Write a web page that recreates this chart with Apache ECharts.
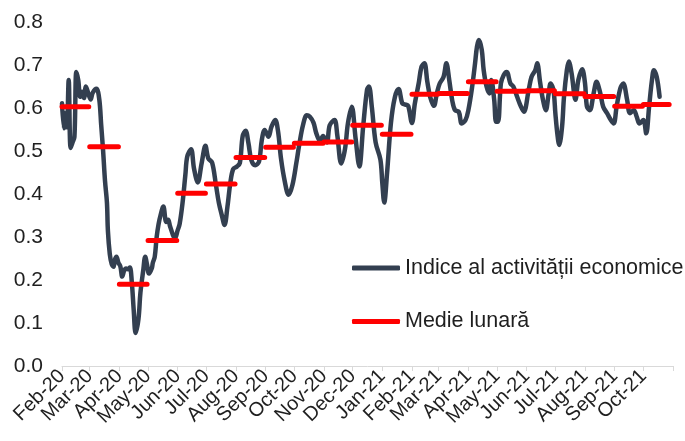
<!DOCTYPE html>
<html>
<head>
<meta charset="utf-8">
<script src="https://cdn.jsdelivr.net/npm/echarts@6/dist/echarts.min.js"></script>
<style>
html,body{margin:0;padding:0;background:#fff;}
#c{width:685px;height:441px;}
</style>
</head>
<body>
<div id="c"></div>
<script>
// ---- Data ----
const dates = [
'2020-02-01','2020-02-03','2020-02-04','2020-02-06','2020-02-08','2020-02-10','2020-02-12','2020-02-14','2020-02-16','2020-02-18',
'2020-02-20','2020-02-22','2020-02-24','2020-02-26','2020-02-29','2020-03-02','2020-03-04','2020-03-08','2020-03-11','2020-03-13',
'2020-03-15','2020-03-17','2020-03-19','2020-03-20','2020-03-22','2020-03-24','2020-03-26','2020-03-27','2020-03-29','2020-03-31',
'2020-04-02','2020-04-04','2020-04-06','2020-04-08','2020-04-10','2020-04-12','2020-04-14','2020-04-16','2020-04-18','2020-04-21',
'2020-04-23','2020-04-26','2020-04-28','2020-04-30','2020-05-02','2020-05-05','2020-05-06','2020-05-08','2020-05-10','2020-05-12',
'2020-05-14','2020-05-17','2020-05-20','2020-05-22','2020-05-24','2020-05-27','2020-05-29','2020-06-01','2020-06-03','2020-06-06',
'2020-06-09','2020-06-11','2020-06-15','2020-06-18','2020-06-22','2020-06-26','2020-06-30','2020-07-03','2020-07-07','2020-07-11',
'2020-07-14','2020-07-17','2020-07-20','2020-07-23','2020-07-26','2020-07-29','2020-08-02','2020-08-05','2020-08-08','2020-08-11',
'2020-08-14','2020-08-17','2020-08-21','2020-08-25','2020-08-28','2020-08-31','2020-09-04','2020-09-07','2020-09-11','2020-09-14',
'2020-09-17','2020-09-21','2020-09-25','2020-09-29','2020-10-03','2020-10-06','2020-10-10','2020-10-14','2020-10-17','2020-10-21',
'2020-10-24','2020-10-28','2020-10-31','2020-11-04','2020-11-07','2020-11-12','2020-11-15','2020-11-19','2020-11-23','2020-11-26',
'2020-11-30','2020-12-04','2020-12-08','2020-12-12','2020-12-16','2020-12-18','2020-12-21','2020-12-25','2020-12-30','2021-01-01',
'2021-01-03','2021-01-06','2021-01-10','2021-01-14','2021-01-18','2021-01-22','2021-01-25','2021-01-28','2021-02-01','2021-02-04',
'2021-02-08','2021-02-11','2021-02-14','2021-02-17','2021-02-20','2021-02-24','2021-02-27','2021-03-02','2021-03-06','2021-03-09',
'2021-03-12','2021-03-15','2021-03-18','2021-03-22','2021-03-25','2021-03-29','2021-04-01','2021-04-05','2021-04-08','2021-04-10',
'2021-04-12','2021-04-15','2021-04-17','2021-04-20','2021-04-23','2021-04-25','2021-04-28','2021-04-30','2021-05-02','2021-05-05',
'2021-05-08','2021-05-11','2021-05-15','2021-05-18','2021-05-22','2021-05-26','2021-05-29','2021-06-03','2021-06-06','2021-06-10',
'2021-06-12','2021-06-15','2021-06-18','2021-06-21','2021-06-24','2021-06-26','2021-06-29','2021-07-01','2021-07-03','2021-07-05',
'2021-07-08','2021-07-10','2021-07-13','2021-07-15','2021-07-18','2021-07-22','2021-07-25','2021-07-29','2021-08-01','2021-08-03',
'2021-08-06','2021-08-10','2021-08-13','2021-08-17','2021-08-20','2021-08-24','2021-08-28','2021-08-31','2021-09-03','2021-09-07',
'2021-09-10','2021-09-14','2021-09-17','2021-09-21','2021-09-24','2021-09-27','2021-10-01','2021-10-04','2021-10-07','2021-10-10',
'2021-10-12','2021-10-15','2021-10-18'
];
const activityIndex = [
0.611,0.553,0.588,0.555,0.665,0.507,0.520,0.533,0.684,0.665,
0.626,0.638,0.623,0.650,0.630,0.620,0.635,0.645,0.620,0.560,
0.500,0.430,0.380,0.315,0.260,0.237,0.231,0.245,0.254,0.240,
0.232,0.208,0.222,0.227,0.225,0.229,0.195,0.130,0.077,0.110,
0.170,0.223,0.254,0.235,0.215,0.228,0.240,0.254,0.300,0.330,
0.350,0.371,0.335,0.340,0.325,0.305,0.296,0.316,0.330,0.378,
0.444,0.487,0.504,0.460,0.427,0.471,0.512,0.483,0.473,0.421,
0.380,0.352,0.328,0.370,0.425,0.458,0.464,0.472,0.535,0.547,
0.518,0.479,0.467,0.475,0.526,0.549,0.533,0.556,0.572,0.545,
0.483,0.429,0.398,0.421,0.471,0.513,0.560,0.583,0.580,0.566,
0.541,0.523,0.535,0.520,0.560,0.572,0.535,0.471,0.505,0.564,
0.603,0.530,0.464,0.558,0.642,0.650,0.603,0.520,0.480,0.425,
0.380,0.450,0.565,0.624,0.644,0.610,0.608,0.605,0.565,0.610,
0.657,0.696,0.704,0.662,0.626,0.605,0.634,0.657,0.672,0.704,
0.665,0.619,0.595,0.591,0.564,0.572,0.595,0.650,0.704,0.743,
0.758,0.735,0.688,0.650,0.634,0.665,0.619,0.568,0.568,0.657,
0.677,0.684,0.657,0.650,0.626,0.603,0.591,0.641,0.672,0.688,
0.704,0.660,0.619,0.595,0.634,0.657,0.641,0.587,0.541,0.514,
0.557,0.626,0.688,0.708,0.680,0.619,0.665,0.690,0.657,0.603,
0.595,0.634,0.661,0.634,0.603,0.588,0.572,0.564,0.603,0.646,
0.657,0.619,0.588,0.595,0.580,0.564,0.572,0.541,0.603,0.665,
0.688,0.672,0.626
];
const monthLabels = ['Feb-20','Mar-20','Apr-20','May-20','Jun-20','Jul-20','Aug-20','Sep-20','Oct-20','Nov-20','Dec-20',
  'Jan-21','Feb-21','Mar-21','Apr-21','May-21','Jun-21','Jul-21','Aug-21','Sep-21','Oct-21'];
const monthStarts = ['2020-02-01','2020-03-01','2020-04-01','2020-05-01','2020-06-01','2020-07-01','2020-08-01','2020-09-01',
  '2020-10-01','2020-11-01','2020-12-01','2021-01-01','2021-02-01','2021-03-01','2021-04-01','2021-05-01','2021-06-01',
  '2021-07-01','2021-08-01','2021-09-01','2021-10-01','2021-11-01'];
const monthlyMean = [0.603,0.510,0.190,0.292,0.402,0.423,0.485,0.509,0.518,0.521,0.560,
  0.539,0.632,0.634,0.661,0.639,0.640,0.633,0.627,0.604,0.608];
const lastMeanDay = '2021-10-28';
const seriesNames = ['Indice al activității economice','Medie lunară'];

// ---- Build ----
const t0 = Date.parse('2020-02-01');
const dayIdx = s => Math.round((Date.parse(s) - t0) / 864e5);
const lineData = dates.map((d,i) => [dayIdx(d), activityIndex[i]]);
const tickDays = monthStarts.map(dayIdx);
const labelDays = tickDays.slice(0, monthLabels.length);
const labelMap = {};
labelDays.forEach((d,i) => { labelMap[d] = monthLabels[i]; });
const labelsEven = labelDays.filter((d,i) => i % 2 === 0);
const labelsOdd = labelDays.filter((d,i) => i % 2 === 1);
const meanData = [];
monthlyMean.forEach((v,i) => {
  const s = tickDays[i];
  const e = (i === monthlyMean.length - 1) ? dayIdx(lastMeanDay) : tickDays[i+1] - 1;
  meanData.push([s, v], [e, v], [e + 0.5, null]);
});

const FONT = "'Liberation Sans', Arial, sans-serif";
const TXT = '#1f1f1f';
const xMax = tickDays[tickDays.length-1];
const labelStyle = vals => ({
  show: true, customValues: vals, rotate: 45, margin: 7,
  hideOverlap: false, showMinLabel: true, showMaxLabel: true,
  fontSize: 20, fontFamily: FONT, color: TXT,
  formatter: v => labelMap[Math.round(v)] || ''
});
const chart = echarts.init(document.getElementById('c'), null, {renderer:'canvas'});
chart.setOption({
  animation: false,
  backgroundColor: '#ffffff',
  grid: {left: 62, right: 12, top: 22, bottom: 75, containLabel: false},
  xAxis: [
    {
      type: 'value', min: 0, max: xMax, position: 'bottom',
      splitLine: {show: false},
      axisLine: {show: true, lineStyle: {color: '#d9d9d9', width: 1}},
      axisTick: {show: true, customValues: tickDays, length: 5, lineStyle: {color: '#d9d9d9'}},
      axisLabel: labelStyle(labelsEven)
    },
    {
      type: 'value', min: 0, max: xMax, position: 'bottom', offset: 0,
      splitLine: {show: false},
      axisLine: {show: false}, axisTick: {show: false},
      axisLabel: labelStyle(labelsOdd)
    }
  ],
  yAxis: {
    type: 'value', min: 0, max: 0.8, interval: 0.1,
    splitLine: {show: false},
    axisLine: {show: false}, axisTick: {show: false},
    axisLabel: {fontSize: 21, fontFamily: FONT, color: TXT, margin: 19,
      showMinLabel: true, showMaxLabel: true,
      formatter: v => v.toFixed(1)}
  },
  legend: {
    orient: 'vertical', left: 352, top: 257, padding: 0,
    itemWidth: 48, itemHeight: 5, itemGap: 31.5,
    textStyle: {fontSize: 21.5, fontFamily: FONT, color: TXT, padding: [0,0,0,0]},
    data: [
      {name: seriesNames[0], icon: 'roundRect'},
      {name: seriesNames[1], icon: 'roundRect'}
    ]
  },
  series: [
    {
      name: seriesNames[0], type: 'line', data: lineData, xAxisIndex: 0,
      symbol: 'none', smooth: 0.35,
      lineStyle: {color: '#333f50', width: 4.5, cap: 'round', join: 'round'},
      itemStyle: {color: '#333f50'}, z: 2
    },
    {
      name: seriesNames[1], type: 'line', data: meanData, xAxisIndex: 0,
      symbol: 'none', connectNulls: false,
      lineStyle: {color: '#ff0000', width: 5, cap: 'round'},
      itemStyle: {color: '#ff0000'}, z: 3
    }
  ]
});
</script>
</body>
</html>
